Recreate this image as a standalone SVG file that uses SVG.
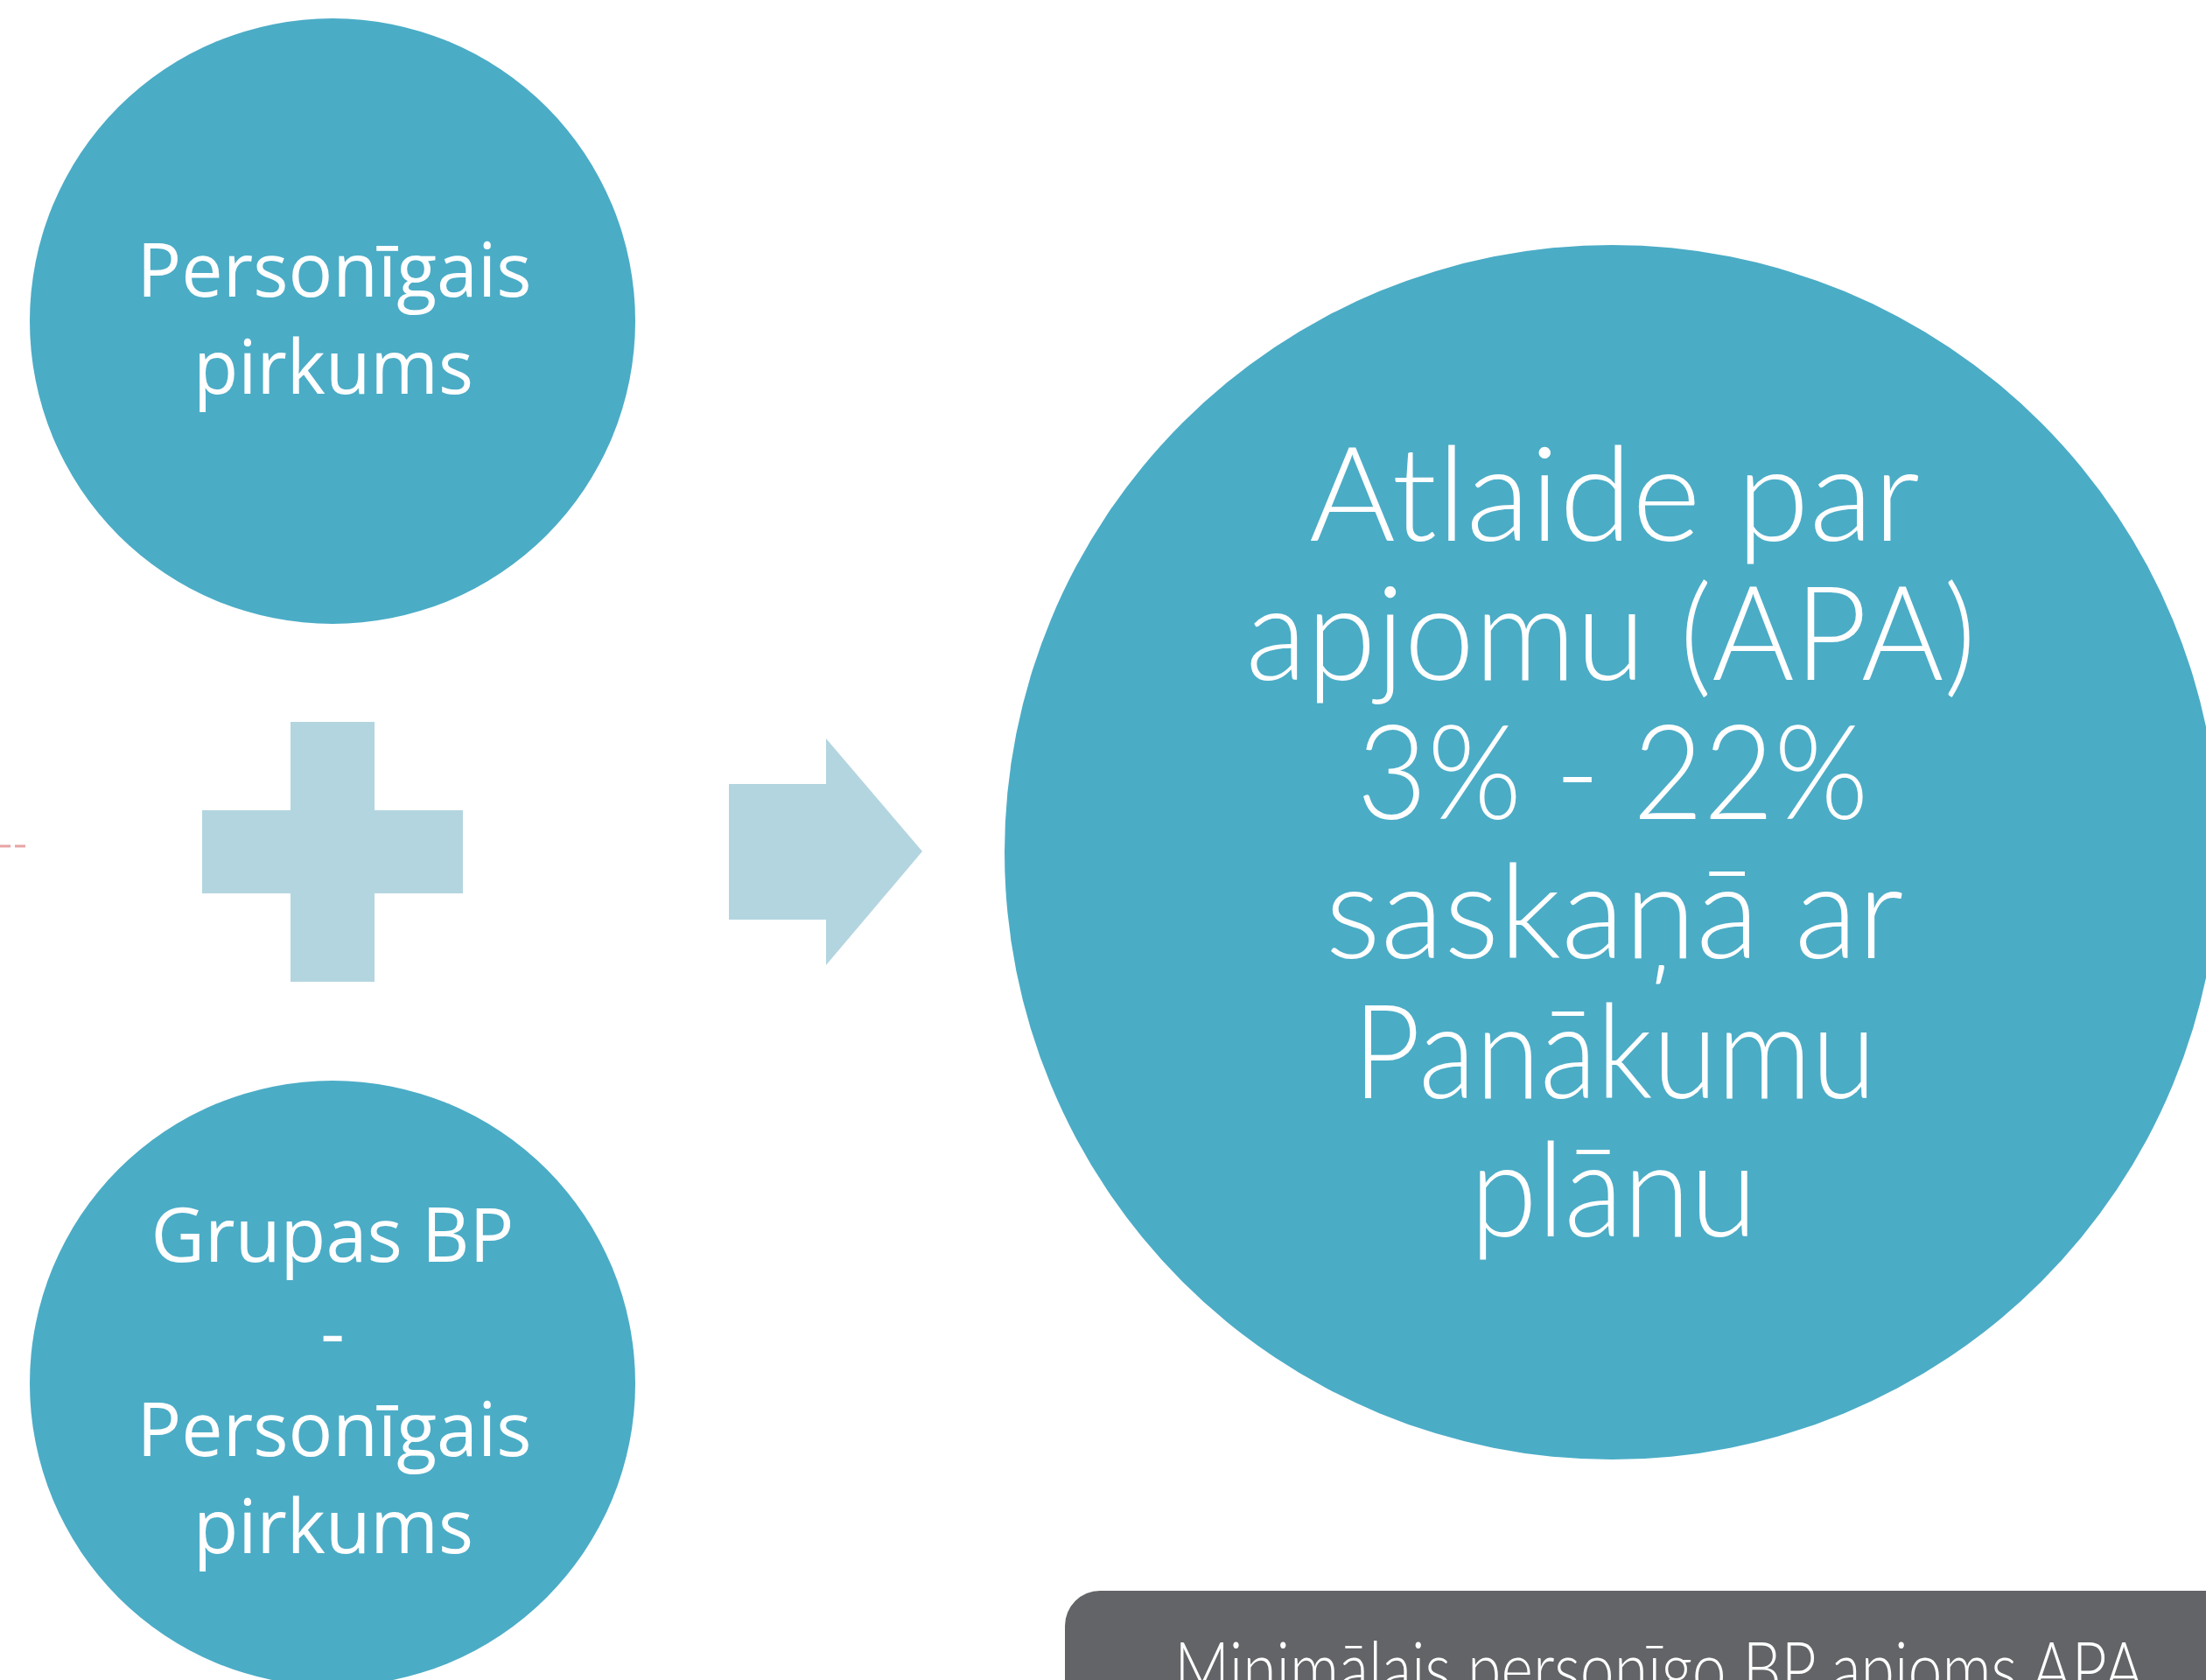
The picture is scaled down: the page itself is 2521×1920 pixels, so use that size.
<svg xmlns="http://www.w3.org/2000/svg" width="2521" height="1920" viewBox="0 0 2521 1920">
<style>
.bubble{fill:#4BACC6}
.shape{fill:#B3D5E0}
.lbl{font-family:"Open Sans","Noto Sans",sans-serif;font-size:86px;fill:#FFFFFF;text-anchor:middle}
.big{font-family:Lato,"Noto Sans",sans-serif;font-weight:300;font-size:150px;fill:#FFFFFF;text-anchor:middle}
.note{font-family:Lato,"Noto Sans",sans-serif;font-weight:300;font-size:84px;fill:#FFFFFF;text-anchor:middle}
</style>
<rect width="2521" height="1920" fill="#FFFFFF"/>
<line x1="0" y1="967" x2="29" y2="967" stroke="#E8A3A3" stroke-width="3" stroke-dasharray="12 5"/>
<g id="node-personal">
<circle class="bubble" cx="380" cy="367" r="346"/>
<text class="lbl" x="382" y="339" textLength="451" lengthAdjust="spacingAndGlyphs">Personīgais</text>
<text class="lbl" x="381" y="450" textLength="320" lengthAdjust="spacingAndGlyphs">pirkums</text>
</g>
<g id="node-plus">
<rect class="shape" x="231" y="926" width="298" height="95"/>
<rect class="shape" x="332" y="825" width="96" height="297"/>
</g>
<g id="node-group">
<circle class="bubble" cx="380" cy="1581" r="346"/>
<text class="lbl" x="380" y="1442" textLength="415" lengthAdjust="spacingAndGlyphs">Grupas BP</text>
<text class="lbl" x="380" y="1553">-</text>
<text class="lbl" x="382" y="1664" textLength="451" lengthAdjust="spacingAndGlyphs">Personīgais</text>
<text class="lbl" x="381" y="1775" textLength="320" lengthAdjust="spacingAndGlyphs">pirkums</text>
</g>
<g id="connectors">
<polygon class="shape" points="833,896 944,896 944,844 1054,973 944,1103 944,1051 833,1051"/>
</g>
<g id="node-apa">
<circle class="bubble" cx="1842" cy="974" r="694"/>
<text class="big" x="1845" y="618" textLength="698" lengthAdjust="spacingAndGlyphs">Atlaide par</text>
<text class="big" x="1841" y="777" textLength="835" lengthAdjust="spacingAndGlyphs">apjomu (APA)</text>
<text class="big" x="1843" y="936" textLength="585" lengthAdjust="spacingAndGlyphs">3% - 22%</text>
<text class="big" x="1845" y="1095" textLength="661" lengthAdjust="spacingAndGlyphs">saskaņā ar</text>
<text class="big" x="1845" y="1255" textLength="598" lengthAdjust="spacingAndGlyphs">Panākumu</text>
<text class="big" x="1844" y="1413" textLength="328" lengthAdjust="spacingAndGlyphs">plānu</text>
</g>
<g id="node-note">
<rect x="1217" y="1818" width="1400" height="200" rx="40" ry="40" fill="#636467"/>
<text class="note" x="1896" y="1937" textLength="1108" lengthAdjust="spacingAndGlyphs">Minimālais personīgo BP apjoms APA</text>
</g>
</svg>
